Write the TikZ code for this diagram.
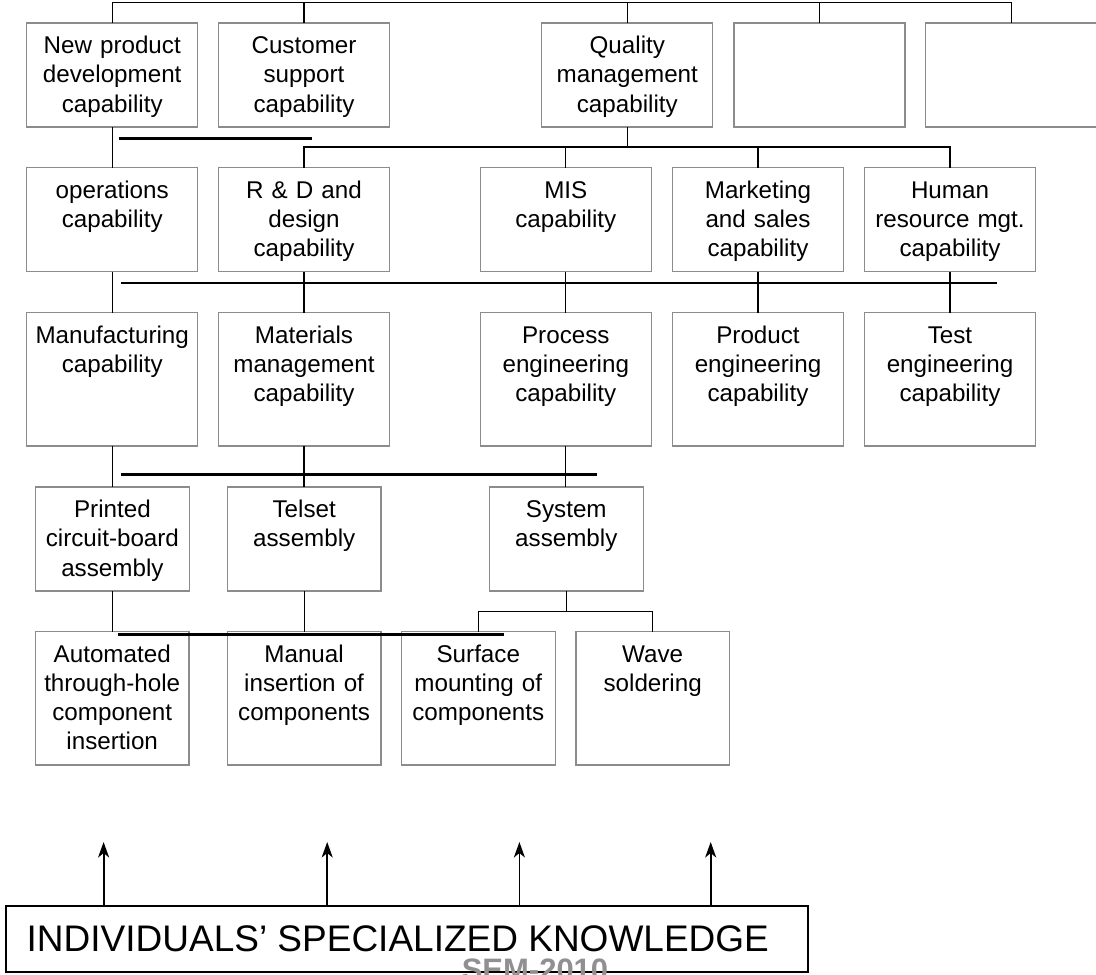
\documentclass[tikz,border=0pt]{standalone}
\usepackage{fontspec}
\setmainfont{Liberation Sans}
\usetikzlibrary{arrows.meta}
\definecolor{boxgray}{HTML}{8C8C8C}
\definecolor{markgray}{HTML}{909090}

\begin{document}
\begin{tikzpicture}[x=1pt,y=-1pt,
  capbox/.style={draw=boxgray, line width=1.2pt, inner sep=0pt, outer sep=0pt,
    align=center, anchor=north west, text height=30.6pt,
    font=\fontsize{24.2}{29.2}\selectfont},
  widebox/.style={text width=171pt},
  narrowbox/.style={text width=153.6pt},
  lowbox/.style={text depth=73.4pt},
  highbox/.style={text depth=102.7pt},
  conn/.style={line width=1.3pt},
  hrule/.style={line width=2.5pt},
  uparrow/.style={line width=1.8pt, -{Stealth[length=15.5pt,width=11pt,inset=4.5pt]}}]
\useasboundingbox (0,0) rectangle (1096,975);

% first level
\node[capbox,widebox,lowbox] (np) at (26.7,23) {New product\\development\\capability};
\node[capbox,widebox,lowbox] (cs) at (218.5,23) {Customer\\support\\capability};
\node[capbox,widebox,lowbox] (qm) at (541.8,23) {Quality\\management\\capability};
\node[capbox,widebox,lowbox] (e1) at (734,23) {};
\node[capbox,widebox,lowbox] (e2) at (925.8,23) {};

% second level
\node[capbox,widebox,lowbox] (op) at (26.7,167.7) {operations\\capability};
\node[capbox,widebox,lowbox] (rd) at (218.5,167.7) {R \& D and\\design\\capability};
\node[capbox,widebox,lowbox] (mis) at (480.3,167.7) {MIS\\capability};
\node[capbox,widebox,lowbox] (mk) at (672.5,167.7) {Marketing\\and sales\\capability};
\node[capbox,widebox,lowbox] (hr) at (864.5,167.7) {Human\\resource mgt.\\capability};

% third level
\node[capbox,widebox,highbox] (mf) at (26.7,312.7) {Manufacturing\\capability};
\node[capbox,widebox,highbox] (mm) at (218.5,312.7) {Materials\\management\\capability};
\node[capbox,widebox,highbox] (pe) at (480.3,312.7) {Process\\engineering\\capability};
\node[capbox,widebox,highbox] (pr) at (672.5,312.7) {Product\\engineering\\capability};
\node[capbox,widebox,highbox] (te) at (864.5,312.7) {Test\\engineering\\capability};

% fourth level
\node[capbox,narrowbox,lowbox] (pcb) at (35.6,487) {Printed\\circuit-board\\assembly};
\node[capbox,narrowbox,lowbox] (ts) at (227.4,487) {Telset\\assembly};
\node[capbox,narrowbox,lowbox] (sa) at (489.5,487) {System\\assembly};

% fifth level
\node[capbox,narrowbox,highbox] (au) at (35.4,631.7) {Automated\\through-hole\\component\\insertion};
\node[capbox,narrowbox,highbox] (mi) at (227.3,631.7) {Manual\\insertion of\\components};
\node[capbox,narrowbox,highbox] (sm) at (401.5,631.7) {Surface\\mounting of\\components};
\node[capbox,narrowbox,highbox] (ws) at (575.9,631.7) {Wave\\soldering};

% bus lines
\coordinate (bus0) at (0,2.5);
\coordinate (bus1) at (0,147);
\coordinate (bus2) at (0,611.7);

\draw[conn] (np.north) -- (np.north |- bus0) -- (e2.north |- bus0) -- (e2.north);
\foreach \n in {cs,qm,e1} \draw[conn] (\n.north) -- (\n.north |- bus0);

\draw[conn] (np.south) -- (op.north);
\draw[conn] (qm.south) -- (qm.south |- bus1);
\draw[conn] (rd.north) -- (rd.north |- bus1) -- (hr.north |- bus1) -- (hr.north);
\foreach \n in {mis,mk} \draw[conn] (\n.north) -- (\n.north |- bus1);

\foreach \a/\b in {op/mf,rd/mm,mis/pe,mk/pr,hr/te,mf/pcb,mm/ts,pe/sa,pcb/au,ts/mi}
  \draw[conn] (\a.south) -- (\a.south |- \b.north);

\draw[conn] (sa.south) -- (sa.south |- bus2);
\draw[conn] (sm.north) -- (sm.north |- bus2) -- (ws.north |- bus2) -- (ws.north);

% heavy rules between levels
\coordinate (r1a) at (118.6,138.3); \coordinate (r1b) at (311.8,138.3);
\coordinate (r2a) at (121,283);     \coordinate (r2b) at (997.4,283);
\coordinate (r3a) at (120.6,474.3); \coordinate (r3b) at (597,474.3);
\coordinate (r4a) at (118.3,634.5); \coordinate (r4b) at (504.1,634.5);
\draw[hrule] (r1a) -- (r1b);
\draw[hrule] (r2a) -- (r2b);
\draw[hrule] (r3a) -- (r3b);
\draw[hrule] (r4a) -- (r4b);

% knowledge base
\node[draw, line width=2pt, inner sep=0pt, outer sep=0pt, minimum width=801.6pt,
  minimum height=66pt, anchor=north west] (kb) at (6.1,905.7) {};
\node[anchor=base west, inner sep=0pt, font=\fontsize{37}{44}\selectfont] (kbt)
  at (26.5,951.7) {INDIVIDUALS’ SPECIALIZED KNOWLEDGE};

\foreach \x [count=\i] in {103.6,327.2,519.4,710.7} \coordinate (tip\i) at (\x,842);
\foreach \i in {1,...,4} \draw[uparrow] (kb.north -| tip\i) -- (tip\i);

\node[anchor=base, inner sep=0pt, text=markgray,
  font=\fontsize{31}{31}\selectfont\bfseries] (sem) at (535,980.5) {SEM-2010};
\end{tikzpicture}
\end{document}
